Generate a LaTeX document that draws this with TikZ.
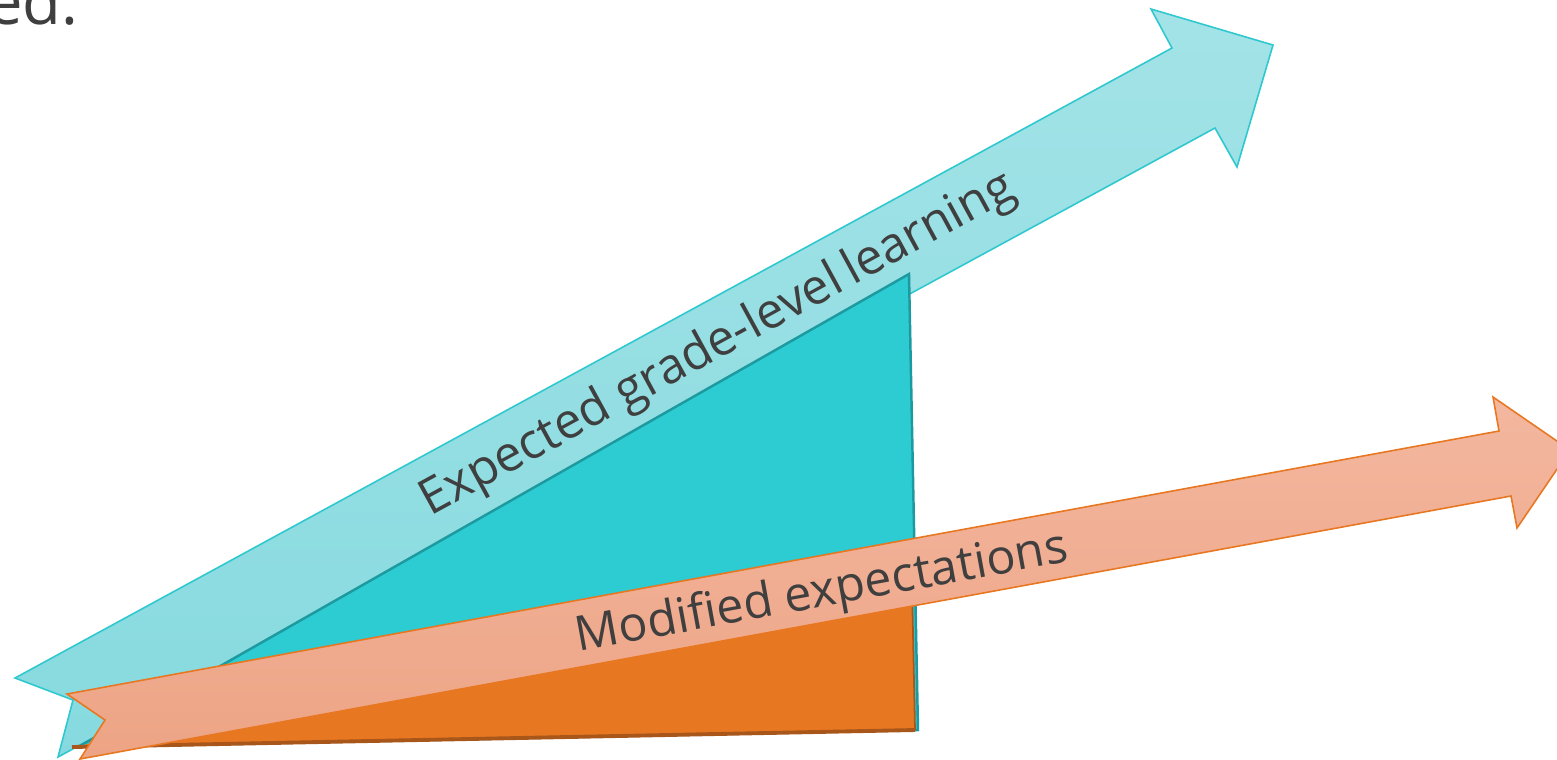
\documentclass[tikz,border=0pt]{standalone}
\usepackage{fontspec}
\setmainfont{Open Sans}
\usepackage{tikz}

\definecolor{skyfill}{HTML}{A3E3E7}
\definecolor{skyfilldark}{HTML}{86DADF}
\definecolor{skyline}{HTML}{2FC8CF}
\definecolor{tealfill}{HTML}{2DCBD2}
\definecolor{tealline}{HTML}{1C9A9F}
\definecolor{peachfill}{HTML}{F3B79F}
\definecolor{peachfilldark}{HTML}{EDA485}
\definecolor{orangefill}{HTML}{E87722}
\definecolor{orangeline}{HTML}{A9561B}
\definecolor{textgray}{HTML}{3F3F3F}

\tikzset{
  band/.style={line width=0.45pt, line join=miter},
  label/.style={text=textgray, inner sep=0pt, font=\fontsize{14}{16}\selectfont}
}

\begin{document}
\begin{tikzpicture}[x=0.01cm, y=-0.01cm]
  \useasboundingbox (0,0) rectangle (1557,759);

  % upper band: tail, notch and head
  \coordinate (upTailA) at (15,678);
  \coordinate (upNotch) at (73,700);
  \coordinate (upTailB) at (58,757);
  \coordinate (upNeckA) at (1172,48);
  \coordinate (upBarbA) at (1151,9);
  \coordinate (upTip)   at (1273,45);
  \coordinate (upBarbB) at (1237,167);
  \coordinate (upNeckB) at (1215,128);

  % lower band
  \coordinate (loTailA) at (67,694);
  \coordinate (loNotch) at (105,720);
  \coordinate (loTailB) at (80,759);
  \coordinate (loNeckA) at (1499,431);
  \coordinate (loBarbA) at (1493,397);
  \coordinate (loTip)   at (1570,450);
  \coordinate (loBarbB) at (1517,528);
  \coordinate (loNeckB) at (1511,496);

  % the two wedges
  \coordinate (wedgeL) at (78,747);
  \coordinate (wedgeT) at (909,274);
  \coordinate (wedgeR) at (918,730);
  \coordinate (lowL)   at (72,747);
  \coordinate (lowT)   at (912,585);
  \coordinate (lowR)   at (915,730);

  \draw[band, skyline, top color=skyfill, bottom color=skyfilldark]
    (upTailA) -- (upNeckA) -- (upBarbA) -- (upTip) -- (upBarbB)
    -- (upNeckB) -- (upTailB) -- (upNotch) -- cycle;

  \draw[fill=tealfill, draw=tealline, line width=0.7pt]
    (wedgeL) -- (wedgeT) -- (wedgeR) -- cycle;
  \fill[orangefill] (lowL) -- (lowT) -- (lowR) -- cycle;
  \draw[orangeline, line width=0.5pt] (lowT) -- (lowR);
  \draw[orangeline, line width=1.1pt] (lowL) -- (lowR);

  \draw[band, orangefill, top color=peachfill, bottom color=peachfilldark]
    (loTailA) -- (loNeckA) -- (loBarbA) -- (loTip) -- (loBarbB)
    -- (loNeckB) -- (loTailB) -- (loNotch) -- cycle;

  \node[label, rotate=28.6] (expected) at (718,345) {Expected grade-level\hspace{0.17em}learning};
  \node[label, rotate=10.4, font=\fontsize{13.75}{16}\selectfont] (modified) at (822,594) {Modified expectations};

  \node[label, font=\fontsize{18}{20}\selectfont, anchor=base east] (tail) at (79,24) {ed.};
\end{tikzpicture}
\end{document}
